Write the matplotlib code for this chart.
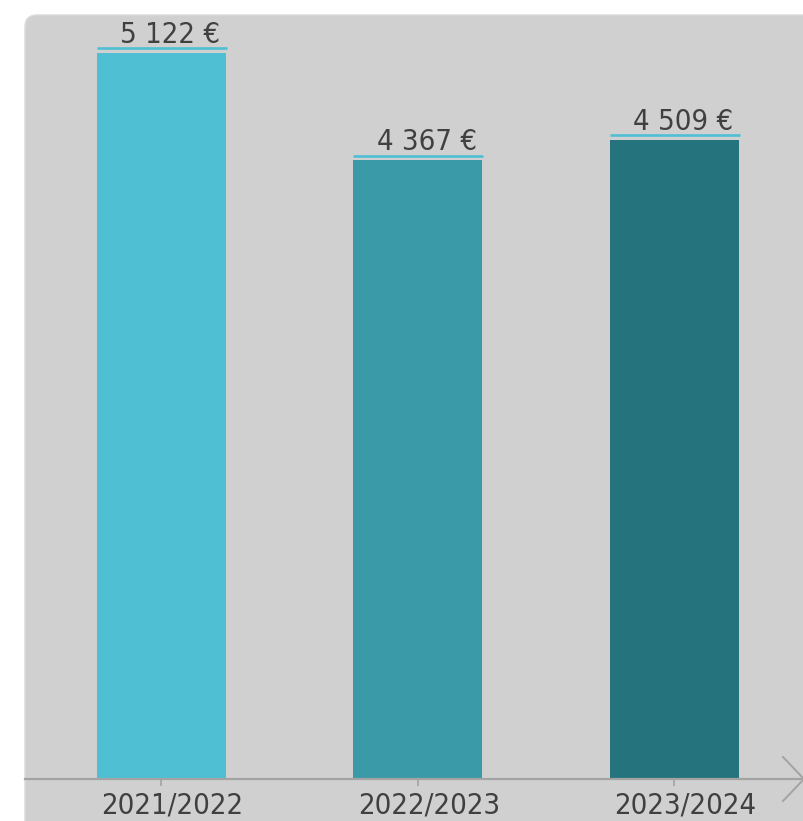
import matplotlib
matplotlib.use("Agg")
import matplotlib.pyplot as plt
from matplotlib.patches import FancyBboxPatch
from matplotlib.lines import Line2D
import matplotlib.transforms as mtransforms

# Données
seasons = ["2021/2022", "2022/2023", "2023/2024"]
values = [5122, 4367, 4509]
labels = ["5 122 €", "4 367 €", "4 509 €"]
colors = ["#4FC0D3", "#3A9AA8", "#25737D"]

TEXT = "#404040"
AXIS = "#A3A3A3"
PANEL = "#D0D0D0"
FONT = dict(family=["DejaVu Sans"], fontstretch="condensed")


def main():
    fig = plt.figure(figsize=(8.04, 8.21), dpi=100, facecolor="white")

    # fond gris aux coins arrondis
    panel = FancyBboxPatch((0.25, -0.5), 8.5, 8.56,
                           boxstyle="round,pad=0,rounding_size=0.12",
                           transform=fig.dpi_scale_trans,
                           facecolor=PANEL, edgecolor="#DADADA", lw=1.0, zorder=-5)
    fig.patches.append(panel)

    ax = fig.add_axes([25 / 804, 42 / 821, 779 / 804, 764 / 821])
    ax.set_zorder(1)
    ax.patch.set_alpha(0)
    x = list(range(len(seasons)))
    width = 0.503
    ax.bar(x, values, width=width, color=colors, zorder=2)
    ax.set_xlim(-0.532, 2.505)
    ax.set_ylim(0, 5390)

    # ligne cyan au-dessus de chaque barre + étiquette
    up = mtransforms.offset_copy(ax.transData, fig=fig, x=0, y=4.5, units="dots")
    lab = mtransforms.offset_copy(ax.transData, fig=fig, x=9, y=4, units="dots")
    for xi, v, t in zip(x, values, labels):
        ax.plot([xi - width / 2, xi + width / 2 + 0.004], [v, v], color="#4FC0D3",
                lw=1.9, transform=up, solid_capstyle="butt", zorder=3)
        ax.text(xi, v, t, ha="center", va="bottom", fontsize=21, color=TEXT,
                transform=lab, **FONT)

    for s in ["top", "right", "left"]:
        ax.spines[s].set_visible(False)
    ax.spines["bottom"].set_color(AXIS)
    ax.spines["bottom"].set_linewidth(1.6)
    ax.spines["bottom"].set_zorder(4)
    ax.set_yticks([])
    ax.set_xticks(x)
    ax.set_xticklabels(seasons, fontsize=21, color=TEXT, **FONT)
    ax.tick_params(axis="x", direction="inout", length=10, width=1.2, color=AXIS, pad=4)
    shift = mtransforms.ScaledTranslation(11 / 100, 0, fig.dpi_scale_trans)
    for tl in ax.get_xticklabels():
        tl.set_transform(tl.get_transform() + shift)

    # flèche au bout de l'axe
    px = lambda a, b: (a / 804, 1 - b / 821)
    p1, p2, p3 = px(783, 757), px(804, 779), px(783, 801)
    fig.lines.append(Line2D([p1[0], p2[0], p3[0]], [p1[1], p2[1], p3[1]],
                            transform=fig.transFigure, color=AXIS, lw=1.4))

    fig.savefig("out.png", dpi=100, facecolor="white")


if __name__ == "__main__":
    main()
